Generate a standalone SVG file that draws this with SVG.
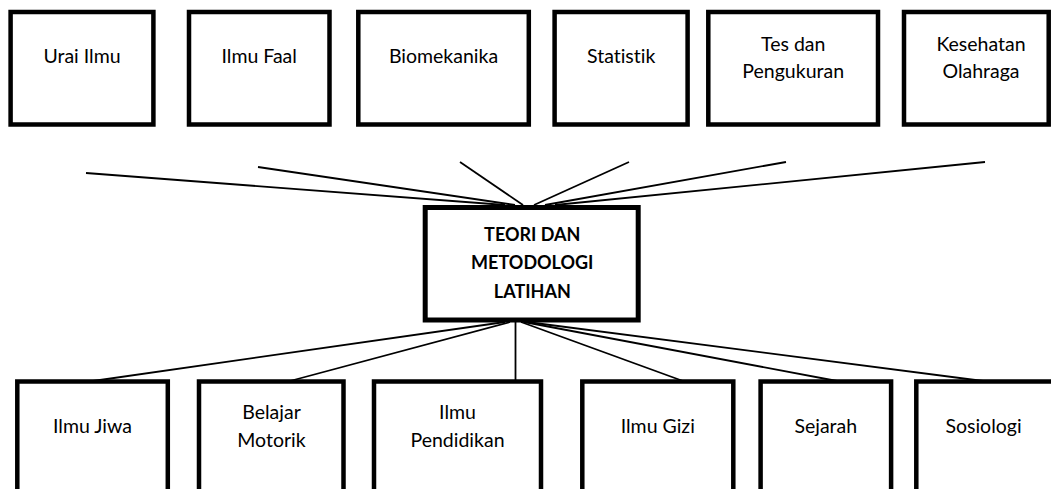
<svg xmlns="http://www.w3.org/2000/svg" width="1051" height="489" viewBox="0 0 1051 489">
<style>
.box{fill:#fff;stroke:#000;stroke-width:4.5}
.main{fill:#fff;stroke:#000;stroke-width:5}
.t{font-family:Lato,"Open Sans","Liberation Sans",sans-serif;font-size:19.5px;fill:#000;text-anchor:middle;font-variant-ligatures:none}
.b{font-family:Lato,"Open Sans","Liberation Sans",sans-serif;font-size:18px;font-weight:bold;fill:#000;text-anchor:middle;font-variant-ligatures:none}
.c line{stroke:#000;stroke-width:1.8}
</style>
<rect width="1051" height="489" fill="#fff"/>
<g class="c" id="connectors">
<line x1="86" y1="173" x2="505" y2="205"/>
<line x1="258" y1="167" x2="515" y2="205"/>
<line x1="460" y1="162" x2="523" y2="205"/>
<line x1="629" y1="162" x2="534" y2="205"/>
<line x1="786" y1="162" x2="545" y2="205"/>
<line x1="985" y1="162" x2="555" y2="205"/>
<line x1="505" y1="322" x2="93" y2="381"/>
<line x1="510" y1="322" x2="290" y2="381"/>
<line x1="515.5" y1="322" x2="515.5" y2="381"/>
<line x1="521" y1="322" x2="683" y2="381"/>
<line x1="524" y1="322" x2="837" y2="381"/>
<line x1="527" y1="322" x2="983" y2="381"/>
</g>
<g id="urai-ilmu"><rect class="box" x="10.6" y="12" width="142.8" height="112.5"/><text class="t" x="82" y="63.3">Urai Ilmu</text></g>
<g id="ilmu-faal"><rect class="box" x="189" y="12" width="140.5" height="112.5"/><text class="t" x="259.2" y="63.3">Ilmu Faal</text></g>
<g id="biomekanika"><rect class="box" x="358.3" y="12" width="170.5" height="112.5"/><text class="t" x="443.5" y="63.3">Biomekanika</text></g>
<g id="statistik"><rect class="box" x="554.6" y="12" width="133" height="112.5"/><text class="t" x="621.2" y="63.3">Statistik</text></g>
<g id="tes-pengukuran"><rect class="box" x="708.3" y="12" width="169.7" height="112.5"/><text class="t" x="793.2" y="50.7">Tes dan</text><text class="t" x="793.2" y="78.3">Pengukuran</text></g>
<g id="kesehatan-olahraga"><rect class="box" x="904" y="12" width="144.7" height="112.5"/><text class="t" x="981" y="50.7">Kesehatan</text><text class="t" x="981" y="78.3">Olahraga</text></g>
<g id="teori-metodologi"><rect class="main" x="425.2" y="207.5" width="213" height="112.5"/><text class="b" x="532.3" y="240.7">TEORI DAN</text><text class="b" x="532.3" y="269.2">METODOLOGI</text><text class="b" x="532.3" y="297.8">LATIHAN</text></g>
<g id="ilmu-jiwa"><rect class="box" x="17.3" y="381.5" width="150.5" height="110"/><text class="t" x="92.5" y="432.5">Ilmu Jiwa</text></g>
<g id="belajar-motorik"><rect class="box" x="199" y="381.5" width="144.5" height="110"/><text class="t" x="271.5" y="419">Belajar</text><text class="t" x="271.5" y="446.7">Motorik</text></g>
<g id="ilmu-pendidikan"><rect class="box" x="374" y="381.5" width="167" height="110"/><text class="t" x="457.5" y="419">Ilmu</text><text class="t" x="457.5" y="446.7">Pendidikan</text></g>
<g id="ilmu-gizi"><rect class="box" x="582.3" y="381.5" width="151" height="110"/><text class="t" x="657.8" y="432.7">Ilmu Gizi</text></g>
<g id="sejarah"><rect class="box" x="760.6" y="381.5" width="130.5" height="110"/><text class="t" x="825.8" y="433">Sejarah</text></g>
<g id="sosiologi"><rect class="box" x="916.3" y="381.5" width="150" height="110"/><text class="t" x="983.5" y="433">Sosiologi</text></g>
</svg>
